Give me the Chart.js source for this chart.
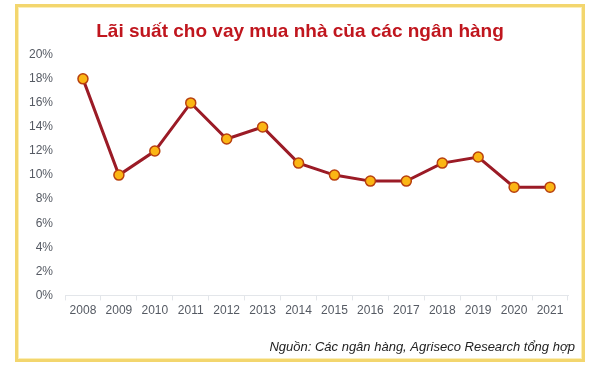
<!DOCTYPE html>
<html>
<head>
<meta charset="utf-8">
<script src="https://cdn.jsdelivr.net/npm/chart.js@4"></script>
<style>
  html, body { margin: 0; padding: 0; background: #fff; }
  #wrap { position: relative; width: 600px; height: 371px; }
  #frame {
    position: absolute; left: 15px; top: 4px; width: 564px; height: 352px;
    border: 3px solid #f3d66e; box-shadow: inset 0 0 0 1px #fbeeb8;
    pointer-events: none;
  }
  canvas { position: absolute; left: 0; top: 0; }
</style>
</head>
<body>
<div id="wrap">
  <canvas id="chart" width="600" height="371"></canvas>
  <div id="frame"></div>
</div>
<script>
// years and rates (%)
const years = ['2008', '2009', '2010', '2011', '2012', '2013', '2014',
  '2015', '2016', '2017', '2018', '2019', '2020', '2021'];
const rates = [18, 10, 12, 16, 13, 14, 11, 10, 9.5, 9.5, 11, 11.5, 9, 9];

const titleText = 'Lãi suất cho vay mua nhà của các ngân hàng';
const sourceText = 'Nguồn: Các ngân hàng, Agriseco Research tổng hợp';

new Chart('chart', {
  type: 'line',
  data: {
    labels: years,
    datasets: [{
      data: rates,
      borderColor: '#9b1b26',
      borderWidth: 3,
      pointRadius: 5,
      pointBackgroundColor: '#fbb614',
      pointBorderColor: '#b8400e',
      pointBorderWidth: 1.5,
      tension: 0,
    }],
  },
  options: {
    responsive: false,
    animation: false,
    // equal side padding keeps the title centred on the page
    layout: {padding: {left: 25, right: 25, top: 0, bottom: 16}},
    plugins: {
      legend: {display: false},
      tooltip: {enabled: false},
      title: {
        display: true,
        text: titleText,
        color: '#c0161e',
        font: {family: 'Liberation Sans', size: 19, weight: 'bold'},
        padding: {top: 20, bottom: 12},
      },
      subtitle: {
        display: true,
        text: sourceText,
        position: 'bottom',
        align: 'end',
        color: '#222',
        font: {family: 'Liberation Sans', size: 13, style: 'italic'},
        padding: {top: 0, bottom: 0},
      },
    },
    scales: {
      x: {
        offset: true,
        grid: {
          display: true,
          offset: true,
          drawOnChartArea: false,
          tickLength: 5,
          color: '#e3e6ea',
        },
        border: {color: '#e3e6ea', width: 1},
        ticks: {
          color: '#555a63',
          font: {family: 'Liberation Sans', size: 12},
          padding: 3,
          maxRotation: 0,
        },
        afterFit(scale) { scale.height = 44; },
      },
      y: {
        min: 0,
        max: 20,
        grid: {display: false, drawTicks: false},
        border: {display: false},
        ticks: {
          stepSize: 2,
          color: '#555a63',
          font: {family: 'Liberation Sans', size: 12},
          padding: 12,
          callback: (v) => v + '%',
        },
        afterFit(scale) { scale.width = 40; },
      },
      // empty spacer on the right so the plot ends where the reference does
      y2: {
        position: 'right',
        grid: {display: false, drawTicks: false},
        border: {display: false},
        ticks: {display: false},
        afterFit(scale) { scale.width = 7; },
      },
    },
  },
});
</script>
</body>
</html>
